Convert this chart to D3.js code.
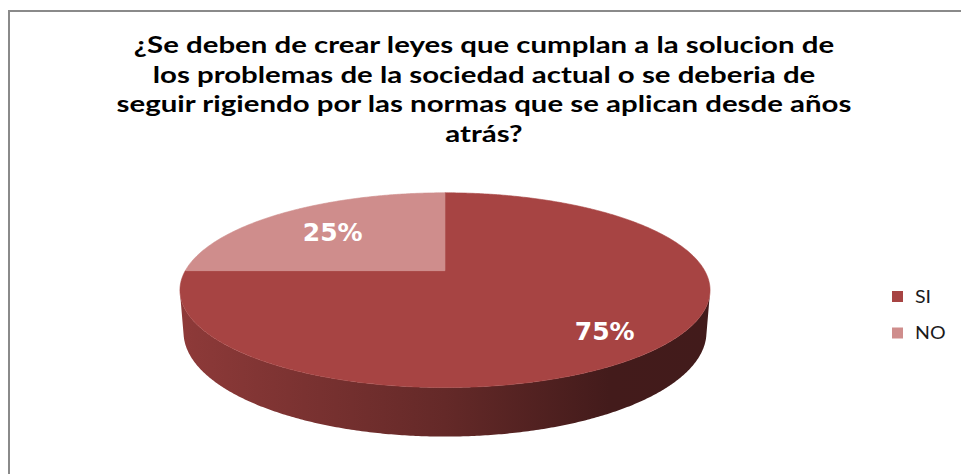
<!DOCTYPE html>
<html>
<head>
<meta charset="utf-8">
<script src="https://cdn.jsdelivr.net/npm/d3@7"></script>
<style>
  html, body { margin: 0; padding: 0; background: #fff; overflow: hidden; }
  svg { display: block; }
</style>
</head>
<body>
<svg id="chart" width="961" height="474"></svg>
<script>
// ---- data ----
const categories = ["SI", "NO"];
const values = [75, 25];
const sliceColors = ["#A74443", "#CF8D8C"];
const titleLines = [
  "¿Se deben de crear leyes que cumplan a la solucion de",
  "los problemas de la sociedad actual o se deberia de",
  "seguir rigiendo por las normas que se aplican desde años",
  "atrás?"
];

const svg = d3.select("#chart");
const defs = svg.append("defs");

// chart frame
svg.append("rect")
  .attr("x", 9).attr("y", 11)
  .attr("width", 1000).attr("height", 500)
  .attr("fill", "none")
  .attr("stroke", "#8a8a8a")
  .attr("stroke-width", 2);

// ---- title ----
const titleCx = 484;
const titleG = svg.append("g");
const titleText = titleG.selectAll("text")
  .data(titleLines)
  .join("text")
  .attr("x", 0)
  .attr("y", (d, i) => 53.5 + i * 29.5)
  .attr("text-anchor", "middle")
  .attr("font-family", "Lato, 'Open Sans', sans-serif")
  .attr("font-weight", "bold")
  .attr("font-size", 23)
  .attr("fill", "#000")
  .text(d => d);
// widen the title so its longest line spans the desired width
const longest = d3.max(titleText.nodes(), n => n.getComputedTextLength());
const titleScale = 735 / longest;
titleG.attr("transform", `translate(${titleCx},0) scale(${titleScale},1)`);

// ---- 3D pie (perspective projection of a short cylinder) ----
const cx = 445, cy = 270.7;
const tilt = 21.1 * Math.PI / 180;
const dist = 4.665, focal = 1211.5, depth = 0.171;

function project(theta, r, h) {
  const x = r * Math.sin(theta), z = r * Math.cos(theta);
  const Y = z * Math.sin(tilt) + h * Math.cos(tilt);
  const Z = z * Math.cos(tilt) - h * Math.sin(tilt);
  const s = focal / (dist + Z);
  return [cx + x * s, cy - Y * s];
}

const step = Math.PI / 360;
function arcPoints(a0, a1, r, h) {
  const n = Math.max(2, Math.ceil((a1 - a0) / step));
  return d3.range(n + 1).map(i => project(a0 + (a1 - a0) * i / n, r, h));
}

const pie = d3.pie().sort(null).value(d => d.value);
const slices = pie(categories.map((c, i) => ({ name: c, value: values[i], color: sliceColors[i] })));
const total = d3.sum(values);
const line = d3.line().curve(d3.curveLinearClosed);

// side wall faces the viewer where cos(theta) < -1 / (dist * cos(tilt))
const limit = Math.acos(-1 / (dist * Math.cos(tilt)));
const sideFrom = limit, sideTo = 2 * Math.PI - limit;
const left = project(-limit, 1, 0)[0];
const right = project(limit, 1, 0)[0];

slices.forEach((d, i) => {
  const base = d3.color(d.data.color);
  const g = defs.append("linearGradient")
    .attr("id", "side" + i)
    .attr("gradientUnits", "userSpaceOnUse")
    .attr("x1", left).attr("y1", 0)
    .attr("x2", right).attr("y2", 0);
  [[0, 0.45], [0.5, 1.45], [0.81, 2.55], [1, 2.6]].forEach(([o, k]) => {
    g.append("stop").attr("offset", o).attr("stop-color", base.darker(k).formatHex());
  });
});

const sides = slices
  .map((d, i) => ({ d, i, a0: Math.max(d.startAngle, sideFrom), a1: Math.min(d.endAngle, sideTo) }))
  .filter(s => s.a1 > s.a0);

svg.append("g").selectAll("path")
  .data(sides)
  .join("path")
  .attr("d", s => line(arcPoints(s.a0, s.a1, 1, 0).concat(arcPoints(s.a0, s.a1, 1, -depth).reverse())))
  .attr("fill", s => `url(#side${s.i})`);

svg.append("g").selectAll("path")
  .data(slices)
  .join("path")
  .attr("d", d => line([project(0, 0, 0)].concat(arcPoints(d.startAngle, d.endAngle, 1, 0))))
  .attr("fill", d => d.data.color)
  .attr("stroke", d => d.data.color)
  .attr("stroke-width", 0.6);

// percentage labels, placed along each slice's middle angle
const labelSize = 25;
svg.append("g").selectAll("text")
  .data(slices)
  .join("text")
  .each(function (d) {
    const span = d.endAngle - d.startAngle;
    const mid = (d.startAngle + d.endAngle) / 2 + 0.05 * (span / Math.PI - 1);
    const r = 0.58 + 0.14 * span / Math.PI;
    const p = project(mid, r, 0);
    d3.select(this).attr("x", p[0]).attr("y", p[1] + 0.36 * labelSize);
  })
  .attr("text-anchor", "middle")
  .attr("font-family", "'DejaVu Sans', Verdana, sans-serif")
  .attr("font-weight", "bold")
  .attr("font-size", labelSize)
  .attr("fill", "#fff")
  .text(d => Math.round(d.data.value / total * 100) + "%");

// ---- legend ----
const legend = svg.append("g").selectAll("g")
  .data(categories)
  .join("g")
  .attr("transform", (d, i) => `translate(892,${291 + i * 36.5})`);
legend.append("rect")
  .attr("width", 11).attr("height", 11)
  .attr("fill", (d, i) => sliceColors[i]);
legend.append("text")
  .attr("transform", "translate(23,11.5) scale(1.12,1)")
  .attr("font-family", "Lato, 'Open Sans', sans-serif")
  .attr("font-size", 17.5)
  .attr("fill", "#1a1a1a")
  .text(d => d);
</script>
</body>
</html>
